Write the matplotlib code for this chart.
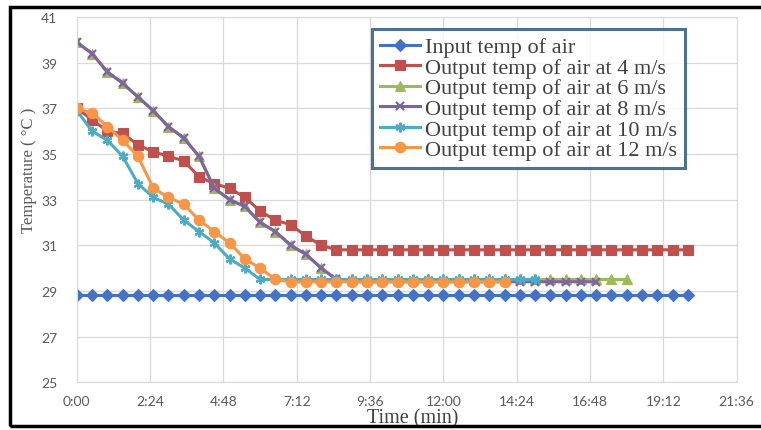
import numpy as np
import matplotlib.pyplot as plt
from matplotlib.patches import Rectangle
from matplotlib.ticker import FixedLocator, FuncFormatter

# readings every 30 s (values in degC)
step_min = 0.5

input_air = [28.8, 28.8, 28.8, 28.8, 28.8, 28.8, 28.8, 28.8, 28.8, 28.8,
             28.8, 28.8, 28.8, 28.8, 28.8, 28.8, 28.8, 28.8, 28.8, 28.8,
             28.8, 28.8, 28.8, 28.8, 28.8, 28.8, 28.8, 28.8, 28.8, 28.8,
             28.8, 28.8, 28.8, 28.8, 28.8, 28.8, 28.8, 28.8, 28.8, 28.8,
             28.8]
out_4 = [37.0, 36.5, 36.0, 35.9, 35.4, 35.1, 34.9, 34.7, 34.0, 33.7,
         33.5, 33.1, 32.5, 32.1, 31.9, 31.4, 31.0, 30.8, 30.8, 30.8,
         30.8, 30.8, 30.8, 30.8, 30.8, 30.8, 30.8, 30.8, 30.8, 30.8,
         30.8, 30.8, 30.8, 30.8, 30.8, 30.8, 30.8, 30.8, 30.8, 30.8,
         30.8]
out_6 = [39.9, 39.4, 38.6, 38.1, 37.5, 36.9, 36.2, 35.7, 34.9, 33.5,
         33.0, 32.7, 32.0, 31.6, 31.0, 30.6, 30.0, 29.5, 29.5, 29.5,
         29.5, 29.5, 29.5, 29.5, 29.5, 29.5, 29.5, 29.5, 29.5, 29.5,
         29.5, 29.5, 29.5, 29.5, 29.5, 29.5, 29.5]
out_8 = [39.9, 39.4, 38.6, 38.1, 37.5, 36.9, 36.2, 35.7, 34.9, 33.5,
         33.0, 32.7, 32.0, 31.6, 31.0, 30.6, 30.0, 29.5, 29.4, 29.4,
         29.4, 29.4, 29.4, 29.4, 29.4, 29.4, 29.4, 29.4, 29.4, 29.4,
         29.4, 29.4, 29.4, 29.4, 29.4]
out_10 = [36.9, 36.0, 35.6, 34.9, 33.7, 33.1, 32.8, 32.1, 31.6, 31.1,
          30.4, 30.0, 29.5, 29.5, 29.5, 29.5, 29.5, 29.5, 29.5, 29.5,
          29.5, 29.5, 29.5, 29.5, 29.5, 29.5, 29.5, 29.5, 29.5, 29.5,
          29.5]
out_12 = [37.0, 36.8, 36.2, 35.6, 34.9, 33.5, 33.1, 32.8, 32.1, 31.6,
          31.1, 30.4, 30.0, 29.5, 29.4, 29.4, 29.4, 29.4, 29.4, 29.4,
          29.4, 29.4, 29.4, 29.4, 29.4, 29.4, 29.4, 29.4, 29.4]

labels = ['Input temp of air',
          'Output temp of air at 4 m/s',
          'Output temp of air at 6 m/s',
          'Output temp of air at 8 m/s',
          'Output temp of air at 10 m/s',
          'Output temp of air at 12 m/s']

xticks = [0, 2.4, 4.8, 7.2, 9.6, 12.0, 14.4, 16.8, 19.2, 21.6]
yticks = [25, 27, 29, 31, 33, 35, 37, 39, 41]

series = [
    (input_air, '#4472C4', 'D', 6),
    (out_4, '#C0504D', 's', 7.5),
    (out_6, '#9BBB59', '^', 7),
    (out_8, '#8064A2', 'x', 6),
    (out_10, '#4BACC6', (6, 2, 0), 7),
    (out_12, '#F79646', 'o', 7.5),
]


def mmss(v, pos):
    total = int(round(v * 60))
    return f"{total // 60}:{total % 60:02d}"


fig = plt.figure(figsize=(7.61, 4.31), dpi=100)
ax = fig.add_axes([0.101, 0.111, 0.867, 0.847])

for (vals, col, mk, ms), lab in zip(series, labels):
    t = np.arange(len(vals)) * step_min
    thin = not (mk == 'x' or isinstance(mk, tuple))
    ax.plot(t, vals, color=col, marker=mk, markersize=ms, linewidth=2.2,
            markeredgewidth=0.8 if thin else 1.6,
            markeredgecolor=col, label=lab)

ax.set_xlim(0, 21.6)
ax.set_ylim(25, 41)
ax.xaxis.set_major_locator(FixedLocator(xticks))
ax.xaxis.set_major_formatter(FuncFormatter(mmss))
ax.yaxis.set_major_locator(FixedLocator(yticks))
ax.grid(True, color='#D9D9D9', linewidth=0.9)
ax.set_axisbelow(True)
for s in ax.spines.values():
    s.set_color('#D9D9D9')
ax.tick_params(length=0, colors='#595959', labelsize=10)
ax.tick_params(axis='x', pad=9)
ax.tick_params(axis='y', pad=14)
for lbl in ax.get_xticklabels() + ax.get_yticklabels():
    lbl.set_family('Lato')

ax.set_xlabel('Time (min)', family='Liberation Serif', fontsize=14.5,
              color='#404040')
ax.xaxis.set_label_coords(0.509, -0.072)
ax.set_ylabel('Temperature ( °C )', family='Liberation Serif', fontsize=12,
              color='#595959')
ax.yaxis.set_label_coords(-0.061, 0.584)

leg = ax.legend(loc='upper left', bbox_to_anchor=(372 / 761, 1 - 30 / 431),
                bbox_transform=fig.transFigure, frameon=True, fancybox=False,
                prop={'family': 'Liberation Serif', 'size': 16},
                labelspacing=0.0, handlelength=1.8, handletextpad=0.25,
                borderpad=0.35, borderaxespad=0)
leg.get_frame().set_edgecolor('#1F4E79')
leg.get_frame().set_linewidth(2.2)
for txt in leg.get_texts():
    txt.set_color('#404040')

fig.add_artist(Rectangle((10 / 761, 4 / 431), 1.2, 419 / 431,
                         transform=fig.transFigure, fill=False,
                         edgecolor='black', linewidth=2.5))

fig.savefig('out.png', dpi=100)
